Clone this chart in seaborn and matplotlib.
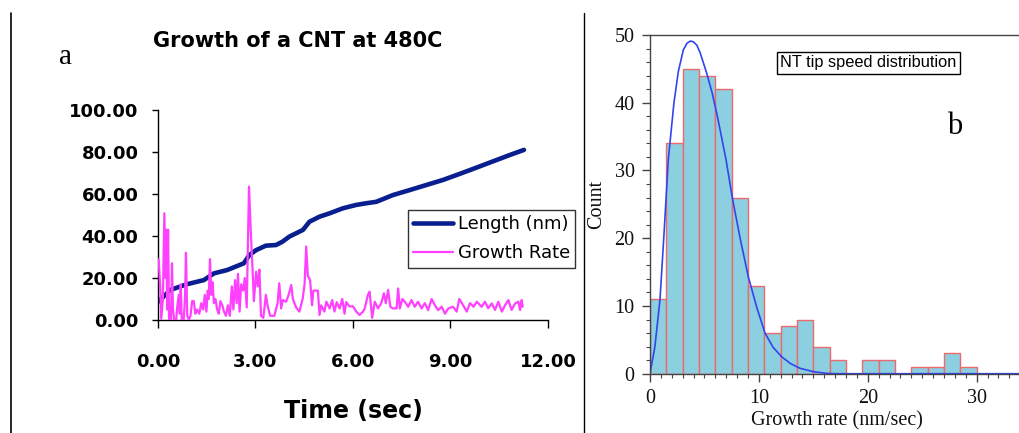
import numpy as np
import pandas as pd
import matplotlib
matplotlib.use("Agg")
import matplotlib.pyplot as plt
from matplotlib.lines import Line2D
from matplotlib.ticker import MultipleLocator, FormatStrFormatter
import seaborn as sns

# ---------------- data: panel a ----------------
length_t = [0.01, 0.38, 0.88, 1.41, 1.72, 2.13, 2.64, 2.81, 2.95, 3.02, 3.32, 3.63, 3.83,
            4.04, 4.25, 4.46, 4.66, 4.97, 5.28, 5.69, 6.10, 6.41, 6.72, 7.23, 7.75, 8.26,
            8.77, 9.18, 9.60, 10.01, 10.42, 10.83, 11.26]
length_v = [8.7, 14.3, 17.0, 19.0, 22.2, 23.8, 27.0, 30.9, 32.5, 33.3, 35.4, 35.7, 37.3,
            39.7, 41.3, 42.9, 46.8, 49.2, 50.8, 53.2, 54.8, 55.6, 56.3, 59.5, 61.9, 64.3,
            66.7, 69.0, 71.4, 73.8, 76.2, 78.6, 81.0]

rate_t = [0.02, 0.07, 0.10, 0.15, 0.196, 0.23, 0.26, 0.28, 0.31, 0.34, 0.40, 0.43, 0.46,
          0.50, 0.56, 0.59, 0.64, 0.67, 0.70, 0.73, 0.79, 0.83, 0.86, 0.90, 0.95, 1.00,
          1.05, 1.10, 1.15, 1.20, 1.27, 1.33, 1.39, 1.44, 1.49, 1.53, 1.56, 1.60, 1.64,
          1.68, 1.72, 1.77, 1.82, 1.87, 1.92, 1.98, 2.03, 2.09, 2.15, 2.21, 2.27, 2.32,
          2.37, 2.42, 2.46, 2.51, 2.56, 2.62, 2.67, 2.73, 2.80, 2.86, 2.91, 2.95, 3.02,
          3.07, 3.12, 3.17, 3.24, 3.32, 3.37, 3.45, 3.58, 3.68, 3.73, 3.79, 3.84, 3.94,
          4.02, 4.10, 4.15, 4.25, 4.35, 4.40, 4.45, 4.51, 4.56, 4.61, 4.68, 4.74, 4.78,
          4.86, 4.92, 4.97, 5.02, 5.12, 5.18, 5.28, 5.36, 5.43, 5.50, 5.59, 5.67, 5.74,
          5.79, 5.89, 6.00, 6.10, 6.20, 6.31, 6.36, 6.46, 6.51, 6.59, 6.67, 6.77, 6.87,
          6.95, 7.01, 7.08, 7.15, 7.23, 7.34, 7.39, 7.44, 7.52, 7.59, 7.70, 7.80, 7.90,
          8.00, 8.11, 8.21, 8.31, 8.42, 8.52, 8.62, 8.73, 8.83, 8.93, 9.08, 9.19, 9.27,
          9.39, 9.50, 9.60, 9.71, 9.81, 9.96, 10.06, 10.16, 10.27, 10.37, 10.47, 10.58,
          10.68, 10.78, 10.88, 10.99, 11.09, 11.14, 11.19, 11.22]
rate_v = [29, 15, 0.5, 10, 50.8, 20, 43, 5, 43, 0, 0, 27, 5,
          0, 0, 6, 12, 3, 17, 0, 0, 10, 32, 2, 0, 2,
          9, 9, 3, 5, 3, 8, 5, 12, 4, 14, 10, 29, 12,
          18, 8, 10, 5, 3, 9, 7, 4, 2, 7, 2, 16, 5,
          19, 8, 22, 4, 17, 14, 20, 6, 63.5, 40, 24, 9, 23,
          16, 24, 2, 1, 12, 7, 2, 2, 8, 17.5, 5.5, 9.5, 8.7,
          12, 16.7, 10, 6, 4, 7, 10, 17, 35, 21, 19, 7, 14,
          14, 14, 2.4, 7, 4, 8.7, 5.5, 9.5, 4, 8.5, 5.5, 10, 3,
          8.5, 6.5, 6.5, 4, 2.4, 4, 5.5, 12, 13.5, 1, 8.7, 5.5, 8,
          12.7, 8, 14.3, 6.3, 5.5, 5.5, 15, 5.5, 10, 8.7, 6.3, 9.5, 6.3,
          8.7, 5.5, 8, 4.7, 10, 7, 4.7, 6.3, 3, 5.5, 6.3, 4, 10,
          7, 4, 8, 6.3, 8.7, 6.3, 8.7, 5.6, 7.9, 4.8, 8.7, 4.0,
          7.1, 9.5, 4.8, 7.9, 8.7, 4.8, 9.5, 6.3]

x_ticks_a = [0, 3, 6, 9, 12]
y_ticks_a = [0, 20, 40, 60, 80, 100]

# ---------------- data: panel b ----------------
bin_edges = [0, 1.5, 3, 4.5, 6, 7.5, 9, 10.5, 12, 13.5, 15, 16.5, 18, 19.5, 21, 22.5,
             24, 25.5, 27, 28.5, 30]
bin_counts = [11, 34, 45, 44, 42, 26, 13, 6, 7, 8, 4, 2, 0, 2, 2, 0, 1, 1, 3, 1]

fit_x = [0, 0.45, 0.92, 1.3, 1.68, 2.2, 2.6, 3.06, 3.4, 3.7, 3.98, 4.3, 4.6, 5.2, 5.7,
         6.12, 6.5, 6.98, 7.59, 8.3, 9.03, 9.8, 10.56, 11.3, 12.09, 12.9, 13.77, 15.0,
         16.2, 17.0, 35]
fit_y = [0, 4, 11, 21, 31.6, 40, 44.6, 47.8, 48.8, 49.1, 49.0, 48.5, 47.4, 44.4, 41.5,
         38.5, 35.5, 31.6, 25.7, 19.8, 14.3, 9.8, 6.0, 3.9, 2.5, 1.5, 0.8, 0.3,
         0.05, 0, 0]

# ---------------- figure ----------------
sns.set_style("ticks")
plt.rcParams['font.family'] = ['DejaVu Sans']
plt.rcParams['text.color'] = 'black'
plt.rcParams['axes.labelcolor'] = 'black'
plt.rcParams['xtick.color'] = 'black'
plt.rcParams['ytick.color'] = 'black'

W, H = 1020, 433
fig = plt.figure(figsize=(W / 100, H / 100), dpi=100)

def fx(px):
    return px / W

def fy(py):
    return 1 - py / H

# separators
fig.add_artist(Line2D([fx(11.5), fx(11.5)], [0, fy(12.5)], color="black", lw=1.2))
fig.add_artist(Line2D([fx(584), fx(584)], [0, fy(12.5)], color="black", lw=1.0))

# ---------- panel a ----------
ax1 = fig.add_axes([fx(158), fy(320), fx(548) - fx(158), fy(110) - fy(320)])
df_len = pd.DataFrame({"t": length_t, "v": length_v})
df_rate = pd.DataFrame({"t": rate_t, "v": rate_v})
sns.lineplot(data=df_len, x="t", y="v", ax=ax1, color="#0a1f8f", lw=3.3,
             label="Length (nm)", zorder=2)
sns.lineplot(data=df_rate, x="t", y="v", ax=ax1, color="#ff40ff", lw=1.6,
             label="Growth Rate", zorder=3)
ax1.set_xlim(0, 12)
ax1.set_ylim(0, 100)
ax1.set_xticks(x_ticks_a)
ax1.set_yticks(y_ticks_a)
ax1.xaxis.set_major_formatter(FormatStrFormatter("%.2f"))
ax1.yaxis.set_major_formatter(FormatStrFormatter("%.2f"))
for s in ["top", "right"]:
    ax1.spines[s].set_visible(False)
for s in ["left", "bottom"]:
    ax1.spines[s].set_color("black")
    ax1.spines[s].set_linewidth(1.0)
ax1.tick_params(axis="y", direction="out", length=4, width=1, pad=10,
                labelsize=13, colors="black")
ax1.tick_params(axis="x", direction="out", length=6, width=1, pad=18,
                labelsize=13, colors="black")
for lab in ax1.get_xticklabels() + ax1.get_yticklabels():
    lab.set_fontweight("bold")
ax1.set_xlabel("Time (sec)", fontsize=17, fontweight="bold", labelpad=20, color="black")
ax1.set_ylabel("")
leg = ax1.legend(loc="upper left", bbox_to_anchor=((408 - 158) / 390, (320 - 210) / 210),
                 borderaxespad=0, frameon=True, fancybox=False, fontsize=13,
                 handlelength=2.2, handletextpad=0.25, borderpad=0.3,
                 labelspacing=0.6, edgecolor="black")
leg.get_frame().set_linewidth(1.0)
leg.legend_handles[0].set_linewidth(3.3)
for t in leg.get_texts():
    t.set_color("black")
fig.text(fx(298), fy(41), "Growth of a CNT at 480C", ha="center", va="center",
         fontsize=15, fontweight="bold", color="black")
fig.text(fx(66), fy(57), "a", ha="center", va="center", fontsize=21,
         family=["Liberation Serif"], color="black")

# ---------- panel b ----------
ax2 = fig.add_axes([fx(650), fy(373.7), fx(1023) - fx(650), fy(35) - fy(373.7)])
centers = [(bin_edges[i] + bin_edges[i + 1]) / 2 for i in range(len(bin_counts))]
sns.histplot(x=centers, weights=bin_counts, bins=bin_edges, ax=ax2,
             color="#8ccfe0", edgecolor="#ee6a6a", linewidth=1.0, alpha=1.0)
sns.lineplot(x=fit_x, y=fit_y, ax=ax2, color="#3344ee", lw=1.2, sort=False)
ax2.set_xlim(0, (1023 - 650) / 10.89)
ax2.set_ylim(0, 50)
ax2.set_xticks([0, 10, 20, 30])
ax2.set_yticks([0, 10, 20, 30, 40, 50])
ax2.xaxis.set_minor_locator(MultipleLocator(1))
ax2.yaxis.set_minor_locator(MultipleLocator(2))
ax2.spines["right"].set_visible(False)
for s in ["left", "top", "bottom"]:
    ax2.spines[s].set_color("#444444")
    ax2.spines[s].set_linewidth(1.0)
ax2.tick_params(axis="both", which="major", direction="out", length=6, width=1,
                colors="#444444", labelcolor="#111111", labelsize=14.5, pad=5)
ax2.tick_params(axis="both", which="minor", direction="out", length=3, width=0.8,
                colors="#444444")
ax2.tick_params(axis="x", which="both", top=False)
for lab in ax2.get_xticklabels() + ax2.get_yticklabels():
    lab.set_family(["Liberation Serif"])
ax2.set_xlabel("Growth rate (nm/sec)", fontsize=14.5, family=["Liberation Serif"],
               labelpad=2, color="#111111")
ax2.set_ylabel("Count", fontsize=14.5, family=["Liberation Serif"], labelpad=6,
               color="#111111")
fig.text(fx(868.5), fy(63), "NT tip speed distribution", ha="center", va="center",
         fontsize=11.8, family=["Liberation Sans"], color="black",
         bbox=dict(boxstyle="square,pad=0.2", facecolor="white", edgecolor="black",
                   linewidth=1.0))
fig.text(fx(955), fy(127), "b", ha="center", va="center", fontsize=22,
         family=["Liberation Serif"], color="black")

fig.savefig("out.png", dpi=100)
